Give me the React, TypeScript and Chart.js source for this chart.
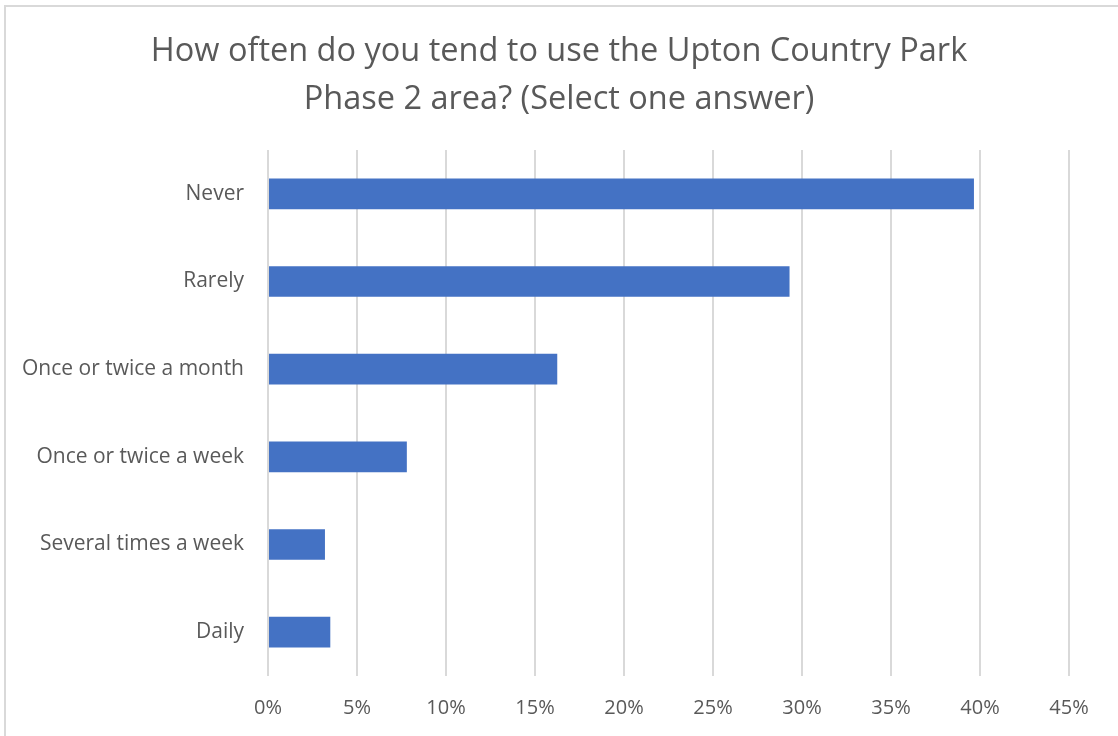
import React, { useEffect, useRef } from "react";
import { Chart, registerables } from "chart.js";

Chart.register(...registerables);

const titleLines = ["How often do you tend to use the Upton Country Park", "Phase 2 area? (Select one answer)"];
const categories = ["Never", "Rarely", "Once or twice a month", "Once or twice a week", "Several times a week", "Daily"];
const values = [39.66, 29.3, 16.25, 7.8, 3.2, 3.5];
const xMin = 0;
const xMax = 45;
const xStep = 5;

const borderPlugin = {
  id: "outerBorder",
  beforeDraw(chart: any) {
    const ctx = chart.ctx;
    ctx.save();
    ctx.fillStyle = "#ffffff";
    ctx.fillRect(0, 0, chart.width, chart.height);
    ctx.strokeStyle = "#d9d9d9";
    ctx.lineWidth = 2;
    ctx.strokeRect(5, 6, chart.width + 20, chart.height + 20);
    ctx.restore();
  },
};

export default function App() {
  const ref = useRef<HTMLCanvasElement>(null);
  useEffect(() => {
    if (!ref.current) return;
    const chart = new Chart(ref.current, {
      type: "bar",
      data: {
        labels: categories,
        datasets: [
          {
            data: values,
            backgroundColor: "#4472c4",
            barPercentage: 0.35,
            categoryPercentage: 1,
          },
        ],
      },
      options: {
        indexAxis: "y",
        animation: false,
        responsive: false,
        maintainAspectRatio: false,
        layout: { padding: 0 },
        plugins: {
          legend: { display: false },
          tooltip: { enabled: false },
          title: {
            display: true,
            text: titleLines,
            color: "#595959",
            font: { family: "'Open Sans'", size: 32.5, weight: "normal", lineHeight: 1.477 },
            padding: { top: 28, bottom: 26 },
          },
        },
        scales: {
          x: {
            min: xMin,
            max: xMax,
            grid: { color: "#d9d9d9", lineWidth: 2, drawTicks: false },
            border: { display: false },
            ticks: {
              stepSize: xStep,
              padding: 20,
              color: "#595959",
              font: { family: "'Open Sans'", size: 20 },
              callback: (v: any) => v + "%",
            },
            afterFit: (s: any) => {
              s.height = 60;
            },
          },
          y: {
            grid: { display: false, drawTicks: false },
            border: { display: false },
            ticks: {
              padding: 24,
              color: "#595959",
              font: { family: "'Open Sans'", size: 21 },
            },
            afterFit: (s: any) => {
              s.width = 268;
            },
          },
          yRight: {
            position: "right",
            display: true,
            grid: { display: false, drawTicks: false },
            border: { display: false },
            ticks: { display: false },
            afterFit: (s: any) => {
              s.width = 49;
            },
          },
        },
      },
      plugins: [borderPlugin],
    });
    return () => chart.destroy();
  }, []);
  return (
    <div style={{ position: "fixed", left: 0, top: 0, width: 1118, height: 736 }}>
      <canvas ref={ref} width={1118} height={736} />
    </div>
  );
}
